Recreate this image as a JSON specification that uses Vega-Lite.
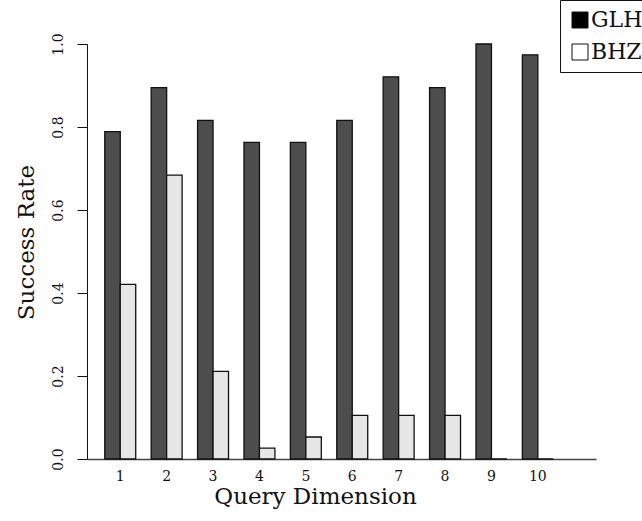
{
  "$schema": "https://vega.github.io/schema/vega-lite/v6.json",
  "width": 509,
  "height": 415,
  "autosize": "none",
  "padding": {"left": 87, "top": 44, "right": 46, "bottom": 62},
  "background": "white",
  "config": {
    "font": "DejaVu Serif",
    "view": {"stroke": null},
    "axis": {"grid": false}
  },
  "data": {
    "values": [
      {"dim": 1, "method": "GLH", "rate": 0.789},
      {"dim": 1, "method": "BHZ", "rate": 0.421},
      {"dim": 2, "method": "GLH", "rate": 0.895},
      {"dim": 2, "method": "BHZ", "rate": 0.684},
      {"dim": 3, "method": "GLH", "rate": 0.816},
      {"dim": 3, "method": "BHZ", "rate": 0.211},
      {"dim": 4, "method": "GLH", "rate": 0.763},
      {"dim": 4, "method": "BHZ", "rate": 0.026},
      {"dim": 5, "method": "GLH", "rate": 0.763},
      {"dim": 5, "method": "BHZ", "rate": 0.053},
      {"dim": 6, "method": "GLH", "rate": 0.816},
      {"dim": 6, "method": "BHZ", "rate": 0.105},
      {"dim": 7, "method": "GLH", "rate": 0.921},
      {"dim": 7, "method": "BHZ", "rate": 0.105},
      {"dim": 8, "method": "GLH", "rate": 0.895},
      {"dim": 8, "method": "BHZ", "rate": 0.105},
      {"dim": 9, "method": "GLH", "rate": 1.0},
      {"dim": 9, "method": "BHZ", "rate": 0.0},
      {"dim": 10, "method": "GLH", "rate": 0.974},
      {"dim": 10, "method": "BHZ", "rate": 0.0}
    ]
  },
  "encoding": {
    "x": {
      "field": "dim",
      "type": "ordinal",
      "scale": {"paddingInner": 0.3333, "paddingOuter": 0.6515, "align": 0.294},
      "axis": {
        "title": "Query Dimension",
        "labelAngle": 0,
        "ticks": false,
        "domainColor": "#444444",
        "domainWidth": 1.5,
        "labelFontSize": 14,
        "labelColor": "#111111",
        "labelPadding": 10,
        "labelBaseline": "top",
        "titleFontSize": 23,
        "titleFontWeight": "normal",
        "titleColor": "#111111",
        "titleX": 228,
        "titleY": 44,
        "titleAlign": "center",
        "titleBaseline": "alphabetic"
      }
    },
    "xOffset": {
      "field": "method",
      "sort": ["GLH", "BHZ"],
      "scale": {"paddingInner": 0, "paddingOuter": 0}
    },
    "y": {
      "field": "rate",
      "type": "quantitative",
      "scale": {"domain": [0, 1], "nice": false},
      "axis": {
        "title": "Success Rate",
        "values": [0, 0.2, 0.4, 0.6, 0.8, 1.0],
        "format": ".1f",
        "tickSize": 10,
        "tickColor": "#111111",
        "domainColor": "#111111",
        "labelAngle": 270,
        "labelAlign": "center",
        "labelBaseline": "alphabetic",
        "labelPadding": 15,
        "labelFontSize": 14,
        "labelColor": "#111111",
        "titleFontSize": 23,
        "titleFontWeight": "normal",
        "titleColor": "#111111",
        "titleAngle": 270,
        "titleX": -54,
        "titleY": 198,
        "titleAlign": "center",
        "titleBaseline": "alphabetic"
      }
    }
  },
  "layer": [
    {
      "mark": {"type": "bar", "stroke": "#111111", "strokeWidth": 1.3},
      "encoding": {
        "fill": {
          "field": "method",
          "type": "nominal",
          "sort": ["GLH", "BHZ"],
          "scale": {"domain": ["GLH", "BHZ"], "range": ["#4d4d4d", "#e6e6e6"]},
          "legend": null
        }
      }
    },
    {
      "mark": {"type": "point", "shape": "square", "filled": true, "opacity": 0, "stroke": "#111111"},
      "encoding": {
        "fill": {
          "field": "method",
          "type": "nominal",
          "sort": ["GLH", "BHZ"],
          "scale": {"domain": ["GLH", "BHZ"], "range": ["#000000", "#ffffff"]},
          "legend": {
            "title": null,
            "orient": "none",
            "legendX": 473,
            "legendY": -44,
            "strokeColor": "#111111",
            "fillColor": "white",
            "padding": 9,
            "cornerRadius": 0,
            "symbolType": "square",
            "symbolSize": 256,
            "symbolOpacity": 1,
            "symbolStrokeColor": "#111111",
            "symbolStrokeWidth": 1,
            "labelFontSize": 22,
            "labelFont": "DejaVu Serif",
            "labelColor": "#111111",
            "labelOffset": 0,
            "rowPadding": 10
          }
        }
      }
    }
  ],
  "resolve": {"scale": {"fill": "independent"}}
}
